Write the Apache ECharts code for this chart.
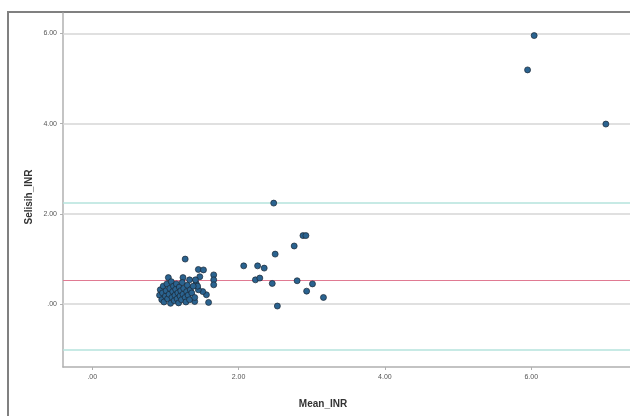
<!DOCTYPE html>
<html>
<head>
<meta charset="utf-8">
<script src="https://cdn.jsdelivr.net/npm/echarts@6/dist/echarts.min.js"></script>
<style>html,body{margin:0;padding:0;background:#fff}#c{width:630px;height:416px}</style>
</head>
<body>
<div id="c"></div>
<script>
var meanINR = [6.04, 5.95, 7.02, 2.48, 2.88, 2.92, 2.76, 2.50, 2.07, 2.26, 2.35, 2.23, 2.29, 2.46, 2.80, 3.01, 2.93, 3.16, 2.53,
  1.27, 1.04, 1.24, 1.45, 1.52, 1.66, 1.66, 1.66, 1.33, 1.47, 1.42, 1.40, 1.59, 1.56, 1.51, 1.45, 1.41, 1.44,
  0.92, 0.93, 0.95, 0.96, 0.97, 0.98, 1.00, 1.01, 1.02, 1.03, 1.05, 1.06, 1.07, 1.08, 1.09, 1.10, 1.11, 1.12, 1.13, 1.14,
  1.15, 1.16, 1.17, 1.18, 1.19, 1.20, 1.21, 1.22, 1.23, 1.24, 1.25, 1.27, 1.28, 1.29, 1.30, 1.31, 1.33, 1.34, 1.36, 1.38, 1.40];
var selisihINR = [5.95, 5.19, 3.99, 2.24, 1.52, 1.52, 1.29, 1.11, 0.85, 0.85, 0.80, 0.54, 0.58, 0.46, 0.52, 0.45, 0.29, 0.15, -0.04,
  1.00, 0.59, 0.59, 0.77, 0.76, 0.65, 0.54, 0.43, 0.54, 0.61, 0.46, 0.06, 0.04, 0.21, 0.28, 0.32, 0.54, 0.40,
  0.20, 0.32, 0.10, 0.25, 0.40, 0.05, 0.18, 0.30, 0.45, 0.12, 0.22, 0.35, 0.02, 0.50, 0.15, 0.28, 0.40, 0.08, 0.20, 0.33,
  0.45, 0.12, 0.25, 0.03, 0.38, 0.18, 0.30, 0.10, 0.48, 0.22, 0.35, 0.15, 0.05, 0.28, 0.42, 0.20, 0.10, 0.32, 0.25, 0.40, 0.15];
var meanDiff = 0.54;
var upperLoA = 2.25;
var lowerLoA = -1.01;
var yTicks = [0, 2, 4, 6];
var xTicks = [0, 2, 4, 6];
var xTitle = 'Mean_INR';
var yTitle = 'Selisih_INR';

function fmt(v) { return v === 0 ? '.00' : v.toFixed(2); }
var pts = meanINR.map(function (x, i) { return [x, selisihINR[i]]; });

var chart = echarts.init(document.getElementById('c'), null, { renderer: 'canvas' });
chart.setOption({
  animation: false,
  backgroundColor: '#ffffff',
  grid: { left: 63, right: 0, top: 13, bottom: 49, containLabel: false },
  xAxis: {
    type: 'value', min: -0.4, max: 7.35,
    axisLine: { show: true, onZero: false, lineStyle: { color: '#b0b0b0', width: 1.5 } },
    axisTick: { show: true, customValues: xTicks, length: 3, lineStyle: { color: '#b0b0b0' } },
    axisLabel: { customValues: xTicks, formatter: fmt, fontSize: 7, color: '#555', margin: 7, fontFamily: 'Liberation Sans' },
    splitLine: { show: false }
  },
  yAxis: {
    type: 'value', min: -1.39, max: 6.45,
    axisLine: { show: true, onZero: false, lineStyle: { color: '#b0b0b0', width: 1.5 } },
    axisTick: { show: true, customValues: yTicks, length: 3, lineStyle: { color: '#b0b0b0' } },
    axisLabel: { customValues: yTicks, formatter: fmt, fontSize: 7, color: '#555', margin: 6, fontFamily: 'Liberation Sans' },
    splitLine: { show: false }
  },
  graphic: [
    { type: 'rect', shape: { x: 8, y: 12, width: 700, height: 500 }, style: { fill: 'none', stroke: '#808080', lineWidth: 2 }, silent: true },
    { type: 'text', x: 323, y: 404, style: { text: xTitle, font: 'bold 10px "Liberation Sans"', fill: '#333', textAlign: 'center', textVerticalAlign: 'middle' } },
    { type: 'text', x: 29, y: 197, rotation: Math.PI / 2, style: { text: yTitle, font: 'bold 10px "Liberation Sans"', fill: '#333', textAlign: 'center', textVerticalAlign: 'middle' } }
  ],
  series: [
    {
      type: 'scatter', data: [], silent: true,
      markLine: {
        silent: true, symbol: 'none', label: { show: false },
        data: yTicks.map(function (v) { return { yAxis: v, lineStyle: { color: '#d6d6d6', width: 1.5, type: 'solid' } }; })
          .concat([
            { yAxis: upperLoA, lineStyle: { color: '#b5e3dc', width: 1.5, type: 'solid' } },
            { yAxis: lowerLoA, lineStyle: { color: '#b5e3dc', width: 1.5, type: 'solid' } },
            { yAxis: meanDiff, lineStyle: { color: '#e07a92', width: 1.2, type: 'solid' } }
          ])
      }
    },
    {
      type: 'scatter', data: pts, symbol: 'circle', symbolSize: 6,
      itemStyle: { color: '#2a6390', borderColor: '#1b2733', borderWidth: 0.7, opacity: 1 },
      z: 5
    }
  ]
});
</script>
</body>
</html>
